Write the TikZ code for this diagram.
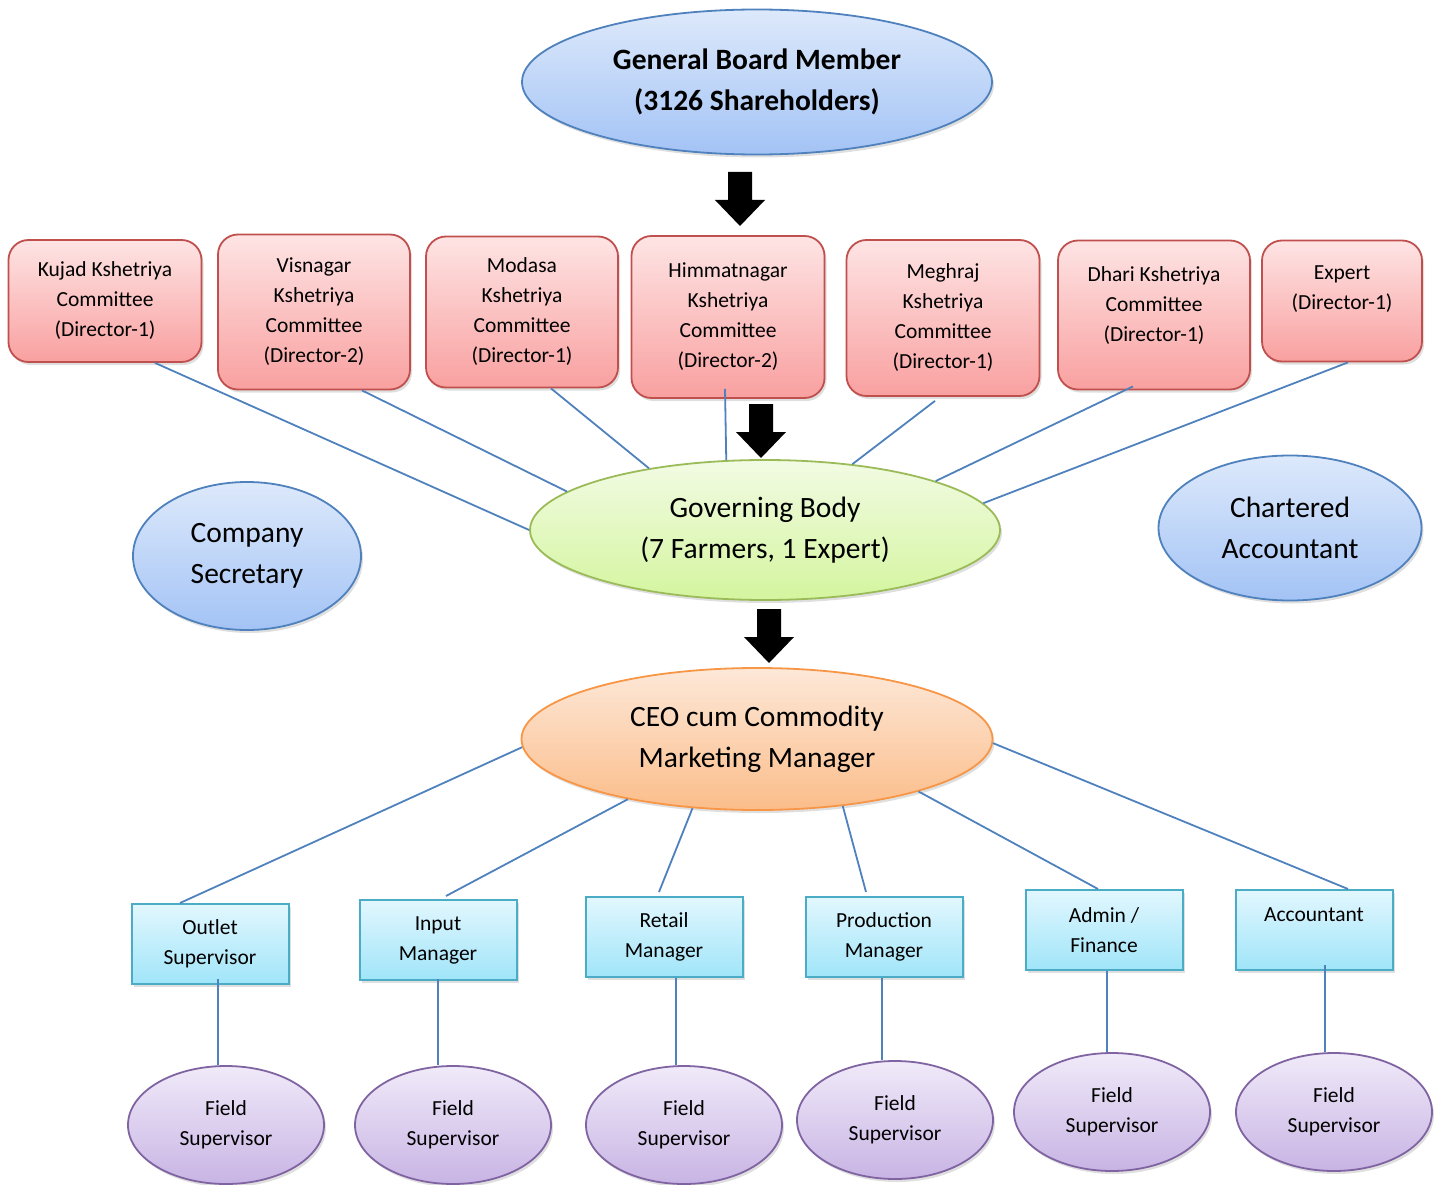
\documentclass[tikz,border=0pt]{standalone}
\usepackage{fontspec}
\setmainfont{Carlito}
\usetikzlibrary{shapes.geometric,shadows,calc}

\definecolor{linkblue}{HTML}{4F81BD}
\definecolor{memberTop}{RGB}{221,233,251}
\definecolor{memberBot}{RGB}{163,195,245}
\definecolor{commTop}{RGB}{254,228,228}
\definecolor{commBot}{RGB}{249,160,160}
\definecolor{commLine}{HTML}{C0504D}
\definecolor{govTop}{RGB}{242,251,228}
\definecolor{govBot}{RGB}{212,245,158}
\definecolor{govLine}{HTML}{9BBB59}
\definecolor{ceoTop}{RGB}{253,232,216}
\definecolor{ceoBot}{RGB}{251,189,138}
\definecolor{ceoLine}{HTML}{F79646}
\definecolor{staffTop}{RGB}{226,247,254}
\definecolor{staffBot}{RGB}{160,229,249}
\definecolor{staffLine}{HTML}{4BACC6}
\definecolor{fieldTop}{RGB}{240,234,249}
\definecolor{fieldBot}{RGB}{200,180,228}
\definecolor{fieldLine}{HTML}{8064A2}

\newcommand{\bigdownarrow}[1]{\fill[black] #1 ++(-12,0) -- ++(24,0) -- ++(0,28) -- ++(13,0) -- ++(-25,26) -- ++(-25,-26) -- ++(13,0) -- cycle;}

\tikzset{
  link/.style={draw=linkblue, line width=1.8pt},
  softshadow/.style={drop shadow={opacity=0.25, shadow xshift=2pt, shadow yshift=-3pt}},
  member/.style={ellipse, draw=linkblue, line width=1.8pt, top color=memberTop, bottom color=memberBot,
    inner sep=0pt, align=center, softshadow, font=\fontsize{29.5}{41}\selectfont},
  committee/.style={rectangle, rounded corners=20pt, draw=commLine, line width=1.8pt, top color=commTop,
    bottom color=commBot, inner sep=0pt, align=center, softshadow, font=\fontsize{21.5}{30}\selectfont},
  governing/.style={ellipse, draw=govLine, line width=1.8pt, top color=govTop, bottom color=govBot,
    inner sep=0pt, align=center, softshadow, minimum width=470, minimum height=140,
    font=\fontsize{29.5}{41}\selectfont},
  ceoell/.style={ellipse, draw=ceoLine, line width=1.8pt, top color=ceoTop, bottom color=ceoBot,
    inner sep=0pt, align=center, softshadow, minimum width=471, minimum height=142,
    font=\fontsize{29.5}{41}\selectfont},
  staffbox/.style={rectangle, draw=staffLine, line width=2pt, top color=staffTop, bottom color=staffBot,
    inner sep=0pt, align=center, softshadow, minimum width=157, minimum height=80,
    font=\fontsize{21.5}{30}\selectfont},
  fieldell/.style={ellipse, draw=fieldLine, line width=1.8pt, top color=fieldTop, bottom color=fieldBot,
    inner sep=0pt, align=center, softshadow, minimum width=196, minimum height=118,
    font=\fontsize{21.5}{30}\selectfont}
}

\begin{document}
\begin{tikzpicture}[x=1pt, y=-1pt]
\useasboundingbox (0,0) rectangle (1443,1185);

% shareholders
\node[member, minimum width=470, minimum height=145, font=\fontsize{29.5}{41}\selectfont\bfseries] (gbm) at (757,82) {General Board Member\\(3126 Shareholders)};

% committees
\node[committee, minimum width=193, minimum height=122] (kujad) at (105,301) {Kujad Kshetriya\\Committee\\(Director-1)};
\node[committee, minimum width=192, minimum height=155] (visnagar) at (314,312) {Visnagar\\Kshetriya\\Committee\\(Director-2)};
\node[committee, minimum width=192, minimum height=151] (modasa) at (522,312) {Modasa\\Kshetriya\\Committee\\(Director-1)};
\node[committee, minimum width=193, minimum height=162] (himmat) at (728,317) {Himmatnagar\\Kshetriya\\Committee\\(Director-2)};
\node[committee, minimum width=193, minimum height=156] (meghraj) at (943,318) {Meghraj\\Kshetriya\\Committee\\(Director-1)};
\node[committee, minimum width=192, minimum height=149] (dhari) at (1154,315) {Dhari Kshetriya\\Committee\\(Director-1)\\[-8pt] \mbox{}};
\node[committee, minimum width=160, minimum height=121] (expert) at (1342,301) {Expert\\(Director-1)\\[-4pt] \mbox{}};

% governing level
\node[governing] (gov) at (765,530) {Governing Body\\(7 Farmers, 1 Expert)};
\node[member, minimum width=228, minimum height=148] (secretary) at (247,556) {Company\\Secretary};
\node[member, minimum width=263, minimum height=145] (chartered) at (1290,528) {Chartered\\Accountant};

% management
\node[ceoell] (ceo) at (757,739) {CEO cum Commodity\\Marketing Manager};

\node[staffbox] (outlet) at (210,944) {Outlet\\Supervisor};
\node[staffbox] (input) at (438,940) {Input\\Manager};
\node[staffbox] (retail) at (664,937) {Retail\\Manager};
\node[staffbox] (production) at (884,937) {Production\\Manager};
\node[staffbox] (admin) at (1104,930) {Admin /\\Finance};
\node[staffbox] (accountant) at (1314,930) {Accountant\\ \mbox{}};

\node[fieldell] (fs1) at (226,1125) {Field\\Supervisor};
\node[fieldell] (fs2) at (453,1125) {Field\\Supervisor};
\node[fieldell] (fs3) at (684,1125) {Field\\Supervisor};
\node[fieldell] (fs4) at (895,1120) {Field\\Supervisor};
\node[fieldell] (fs5) at (1112,1112) {Field\\Supervisor};
\node[fieldell] (fs6) at (1334,1112) {Field\\Supervisor};

% block arrows
\bigdownarrow{(740,172)}
\bigdownarrow{(761,404)}
\bigdownarrow{(769,609)}

% committees to governing body
\draw[link] ($(kujad.south)+(50,0)$) -- (gov.180);
\draw[link] ($(visnagar.south)+(48,0)$) -- (gov.169);
\draw[link] ($(modasa.south)+(29,0)$) -- (gov.152);
\draw[link] ($(himmat.south)+(-3,-10)$) -- (gov.119);
\draw[link] ($(meghraj.south)+(-8,4)$) -- (gov.37);
\draw[link] ($(dhari.south)+(-21,-4)$) -- (gov.16);
\draw[link] ($(expert.south)+(6,0)$) -- (gov.7);

% ceo to staff
\draw[link] (ceo.182) -- ($(outlet.north)+(-30,0)$);
\draw[link] (ceo.205) -- ($(input.north)+(8,-3)$);
\draw[link] (ceo.227) -- ($(retail.north)+(-5,-4)$);
\draw[link] (ceo.322) -- ($(production.north)+(-18,-4)$);
\draw[link] (ceo.342) -- ($(admin.north)+(-6,0)$);
\draw[link] (ceo.359) -- ($(accountant.north)+(34,0)$);

% staff to field supervisors
\draw[link] ($(outlet.south)+(8,-6)$) coordinate (s1) -- (s1 |- fs1.north);
\draw[link] ($(input.south)+(0,-2)$) coordinate (s2) -- (s2 |- fs2.north);
\draw[link] ($(retail.south)+(12,0)$) coordinate (s3) -- (s3 |- fs3.north);
\draw[link] ($(production.south)+(-2,0)$) coordinate (s4) -- (s4 |- fs4.north);
\draw[link] ($(admin.south)+(3,0)$) coordinate (s5) -- (s5 |- fs5.north);
\draw[link] ($(accountant.south)+(11,-6)$) coordinate (s6) -- (s6 |- fs6.north);
\end{tikzpicture}
\end{document}
